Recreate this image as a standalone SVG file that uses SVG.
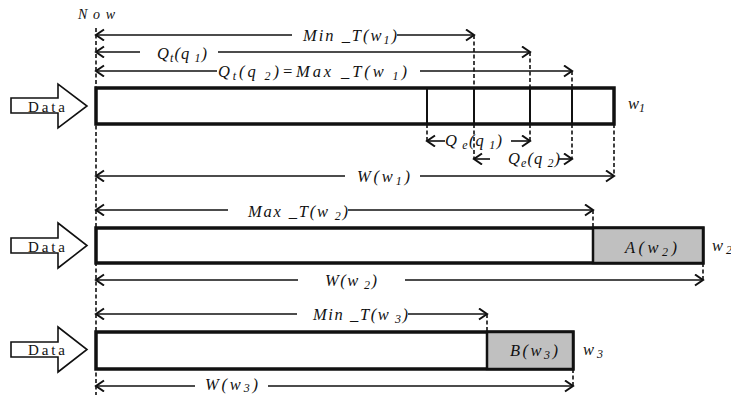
<svg xmlns="http://www.w3.org/2000/svg" width="731" height="395" viewBox="0 0 731 395">
<style>
.lbl{font-family:"Liberation Serif","Times New Roman","DejaVu Serif",serif;font-style:italic;font-size:16.5px;fill:#111}
.sub{font-size:12px}
.data{font-family:"Liberation Serif","Times New Roman","DejaVu Serif",serif;font-size:15px;fill:#111}
.dim{stroke:#111;stroke-width:1.6;fill:none}
.dash{stroke:#111;stroke-width:1.6;stroke-dasharray:4 2.5;fill:none}
.box{fill:#fff;stroke:#111;stroke-width:3.5}
.gray{fill:#c0c0c0;stroke:#111;stroke-width:2.5}
.inner{stroke:#111;stroke-width:2}
.darrow{fill:#fff;stroke:#111;stroke-width:1.6}
</style>
<defs>
<marker id="ah" markerUnits="userSpaceOnUse" markerWidth="12" markerHeight="14" refX="9" refY="6" orient="auto-start-reverse">
<path d="M1,0.5 L9,6 L1,11.5" fill="none" stroke="#111" stroke-width="2"/>
</marker>
</defs>
<rect width="731" height="395" fill="#fff"/>

<text class="lbl" x="78" y="19" textLength="37" lengthAdjust="spacing" style="font-size:14px">Now</text>
<line id="now-line" class="dash" x1="96" y1="28" x2="96" y2="395"/>

<g id="window1">
<polygon class="darrow" points="11,98 58,98 58,84 87,106 58,128 58,113 11,113"/>
<text class="data" x="28" y="112" textLength="37" lengthAdjust="spacing">Data</text>
<rect class="box" x="96" y="88" width="518" height="36"/>
<line class="inner" x1="427" y1="88" x2="427" y2="124"/>
<line class="inner" x1="474" y1="88" x2="474" y2="124"/>
<line class="inner" x1="530" y1="88" x2="530" y2="124"/>
<line class="inner" x1="572" y1="88" x2="572" y2="124"/>
<text class="lbl" x="628" y="109">w<tspan class="sub" dy="3">1</tspan></text>
</g>

<g id="window2">
<polygon class="darrow" points="11,238 58,238 58,223 87,245.5 58,268 58,253 11,253"/>
<text class="data" x="28" y="252" textLength="37" lengthAdjust="spacing">Data</text>
<rect class="box" x="96" y="228" width="607" height="35"/>
<rect class="gray" x="593" y="228" width="110" height="35"/>
<text class="lbl" x="625" y="253" textLength="52" lengthAdjust="spacing">A(w<tspan class="sub" dy="3">2</tspan><tspan dy="-3">)</tspan></text>
<text class="lbl" x="712" y="251">w<tspan class="sub" dy="3"> 2</tspan></text>
</g>

<g id="window3">
<polygon class="darrow" points="11,342 58,342 58,327 87,349.5 58,372 58,357 11,357"/>
<text class="data" x="28" y="355" textLength="37" lengthAdjust="spacing">Data</text>
<rect class="box" x="96" y="332" width="477" height="37"/>
<rect class="gray" x="487" y="332" width="86" height="37"/>
<text class="lbl" x="510" y="356" textLength="48" lengthAdjust="spacing">B(w<tspan class="sub" dy="3">3</tspan><tspan dy="-3">)</tspan></text>
<text class="lbl" x="583" y="355">w<tspan class="sub" dy="3"> 3</tspan></text>
</g>

<g id="connectors">
<line class="dim" x1="292" y1="35" x2="96" y2="35" marker-end="url(#ah)"/>
<line class="dim" x1="397" y1="35" x2="474" y2="35" marker-end="url(#ah)"/>
<line class="dim" x1="140" y1="52" x2="96" y2="52" marker-end="url(#ah)"/>
<line class="dim" x1="218" y1="52" x2="530" y2="52" marker-end="url(#ah)"/>
<line class="dim" x1="217" y1="71" x2="96" y2="71" marker-end="url(#ah)"/>
<line class="dim" x1="420" y1="71" x2="572" y2="71" marker-end="url(#ah)"/>
<line class="dim" x1="445" y1="141" x2="427" y2="141" marker-end="url(#ah)"/>
<line class="dim" x1="511" y1="141" x2="530" y2="141" marker-end="url(#ah)"/>
<line class="dim" x1="490" y1="159" x2="474" y2="159" marker-end="url(#ah)"/>
<line class="dim" x1="559" y1="159" x2="572" y2="159" marker-end="url(#ah)"/>
<line class="dim" x1="345" y1="176" x2="96" y2="176" marker-end="url(#ah)"/>
<line class="dim" x1="420" y1="176" x2="614" y2="176" marker-end="url(#ah)"/>
<line class="dim" x1="228" y1="210" x2="96" y2="210" marker-end="url(#ah)"/>
<line class="dim" x1="348" y1="210" x2="593" y2="210" marker-end="url(#ah)"/>
<line class="dim" x1="298" y1="280" x2="96" y2="280" marker-end="url(#ah)"/>
<line class="dim" x1="405" y1="280" x2="703" y2="280" marker-end="url(#ah)"/>
<line class="dim" x1="297" y1="314" x2="96" y2="314" marker-end="url(#ah)"/>
<line class="dim" x1="408" y1="314" x2="487" y2="314" marker-end="url(#ah)"/>
<line class="dim" x1="195" y1="386" x2="96" y2="386" marker-end="url(#ah)"/>
<line class="dim" x1="268" y1="386" x2="573" y2="386" marker-end="url(#ah)"/>

<line class="dash" x1="474" y1="35" x2="474" y2="88"/>
<line class="dash" x1="530" y1="52" x2="530" y2="88"/>
<line class="dash" x1="572" y1="71" x2="572" y2="88"/>
<line class="dash" x1="427" y1="124" x2="427" y2="141"/>
<line class="dash" x1="530" y1="124" x2="530" y2="141"/>
<line class="dash" x1="474" y1="124" x2="474" y2="159"/>
<line class="dash" x1="572" y1="124" x2="572" y2="159"/>
<line class="dash" x1="614" y1="124" x2="614" y2="176"/>
<line class="dash" x1="593" y1="210" x2="593" y2="228"/>
<line class="dash" x1="703" y1="263" x2="703" y2="280"/>
<line class="dash" x1="487" y1="314" x2="487" y2="332"/>
<line class="dash" x1="573" y1="369" x2="573" y2="386"/>
</g>

<g id="labels">
<text class="lbl" x="303" y="41" textLength="94" lengthAdjust="spacing">Min _T(w<tspan class="sub" dy="3">1</tspan><tspan dy="-3">)</tspan></text>
<text class="lbl" x="157" y="59" textLength="50" lengthAdjust="spacing">Q<tspan class="sub" dy="3">t</tspan><tspan dy="-3">(q</tspan><tspan class="sub" dy="3"> 1</tspan><tspan dy="-3">)</tspan></text>
<text class="lbl" x="218" y="77" textLength="189" lengthAdjust="spacing">Q<tspan class="sub" dy="3">t</tspan><tspan dy="-3">(q</tspan><tspan class="sub" dy="3"> 2</tspan><tspan dy="-3">)=Max _T(w</tspan><tspan class="sub" dy="3"> 1</tspan><tspan dy="-3">)</tspan></text>
<text class="lbl" x="445" y="146" textLength="57" lengthAdjust="spacing">Q<tspan class="sub" dy="3"> e</tspan><tspan dy="-3">(q</tspan><tspan class="sub" dy="3"> 1</tspan><tspan dy="-3">)</tspan></text>
<text class="lbl" x="508" y="164" textLength="52" lengthAdjust="spacing">Q<tspan class="sub" dy="3">e</tspan><tspan dy="-3">(q</tspan><tspan class="sub" dy="3"> 2</tspan><tspan dy="-3">)</tspan></text>
<text class="lbl" x="357" y="182" textLength="53" lengthAdjust="spacing">W(w<tspan class="sub" dy="3">1</tspan><tspan dy="-3">)</tspan></text>
<text class="lbl" x="248" y="217" textLength="100" lengthAdjust="spacing">Max _T(w<tspan class="sub" dy="3"> 2</tspan><tspan dy="-3">)</tspan></text>
<text class="lbl" x="325" y="286" textLength="52" lengthAdjust="spacing">W(w<tspan class="sub" dy="3"> 2</tspan><tspan dy="-3">)</tspan></text>
<text class="lbl" x="313" y="320" textLength="95" lengthAdjust="spacing">Min _T(w<tspan class="sub" dy="3"> 3</tspan><tspan dy="-3">)</tspan></text>
<text class="lbl" x="205" y="390" textLength="53" lengthAdjust="spacing">W(w<tspan class="sub" dy="2">3</tspan><tspan dy="-2">)</tspan></text>
</g>
</svg>
